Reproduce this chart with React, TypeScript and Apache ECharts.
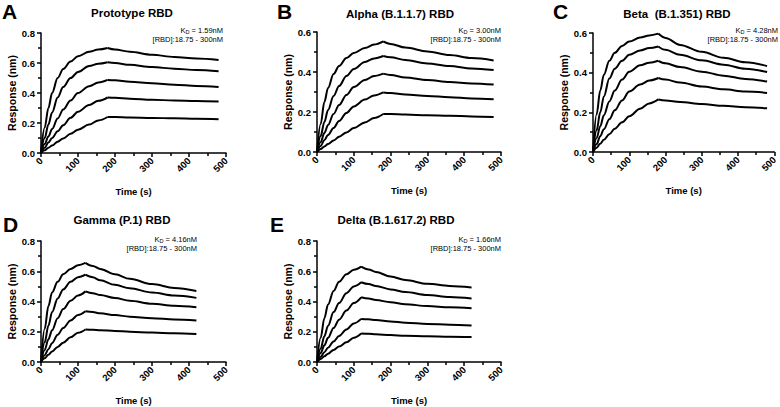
import React, { useEffect, useRef } from 'react';
import * as echarts from 'echarts';

// ---------- data ----------
const panelLetters = ['A', 'B', 'C', 'D', 'E'];
const panelTitles = ['Prototype RBD', 'Alpha (B.1.1.7) RBD', 'Beta  (B.1.351) RBD', 'Gamma (P.1) RBD', 'Delta (B.1.617.2) RBD'];
const kdValues = ['1.59nM', '3.00nM', '4.28nM', '4.16nM', '1.66nM'];
const concRange = '[RBD]:18.75 - 300nM';
const yMaxes = [0.8, 0.6, 0.6, 0.8, 0.8];
const xMax = 500;
const xInterval = 100;
const yInterval = 0.2;

// time points (s)
const assocTimeLong = [0, 10, 20, 30, 45, 60, 80, 100, 130, 155, 180];
const dissocTimeLong = [180, 200, 240, 300, 360, 420, 480];
const assocTimeShort = [0, 10, 20, 30, 45, 60, 80, 100, 120];
const dissocTimeShort = [120, 140, 160, 200, 240, 300, 360, 420];

// A: Prototype
const prototypeAssoc = [
  [0, 0.17, 0.30, 0.40, 0.50, 0.56, 0.61, 0.645, 0.675, 0.69, 0.70],
  [0, 0.10, 0.19, 0.27, 0.37, 0.44, 0.50, 0.54, 0.58, 0.595, 0.605],
  [0, 0.06, 0.11, 0.16, 0.23, 0.29, 0.35, 0.40, 0.445, 0.47, 0.487],
  [0, 0.035, 0.07, 0.10, 0.145, 0.185, 0.235, 0.275, 0.32, 0.348, 0.37],
  [0, 0.018, 0.035, 0.05, 0.075, 0.097, 0.128, 0.155, 0.19, 0.217, 0.24],
];
const prototypeDissoc = [
  [0.70, 0.69, 0.675, 0.655, 0.64, 0.63, 0.62],
  [0.605, 0.60, 0.588, 0.573, 0.562, 0.553, 0.545],
  [0.487, 0.485, 0.475, 0.465, 0.455, 0.447, 0.44],
  [0.37, 0.368, 0.362, 0.355, 0.35, 0.347, 0.343],
  [0.24, 0.24, 0.237, 0.234, 0.231, 0.228, 0.225],
];

// B: Alpha
const alphaAssoc = [
  [0, 0.14, 0.25, 0.32, 0.39, 0.43, 0.47, 0.495, 0.52, 0.537, 0.553],
  [0, 0.08, 0.15, 0.21, 0.28, 0.33, 0.38, 0.415, 0.45, 0.468, 0.48],
  [0, 0.05, 0.095, 0.135, 0.19, 0.235, 0.285, 0.325, 0.36, 0.38, 0.392],
  [0, 0.03, 0.06, 0.085, 0.12, 0.155, 0.195, 0.228, 0.262, 0.283, 0.298],
  [0, 0.015, 0.028, 0.04, 0.058, 0.076, 0.098, 0.12, 0.148, 0.17, 0.19],
];
const alphaDissoc = [
  [0.553, 0.54, 0.522, 0.503, 0.485, 0.47, 0.458],
  [0.48, 0.474, 0.46, 0.443, 0.43, 0.418, 0.41],
  [0.392, 0.385, 0.372, 0.36, 0.35, 0.343, 0.337],
  [0.298, 0.295, 0.288, 0.28, 0.274, 0.268, 0.264],
  [0.19, 0.19, 0.187, 0.184, 0.181, 0.178, 0.175],
];

// C: Beta
const betaAssoc = [
  [0, 0.19, 0.31, 0.39, 0.46, 0.50, 0.535, 0.557, 0.577, 0.588, 0.597],
  [0, 0.11, 0.20, 0.28, 0.37, 0.42, 0.46, 0.49, 0.512, 0.524, 0.532],
  [0, 0.07, 0.13, 0.185, 0.255, 0.31, 0.365, 0.405, 0.437, 0.45, 0.46],
  [0, 0.04, 0.08, 0.115, 0.165, 0.21, 0.26, 0.305, 0.34, 0.36, 0.373],
  [0, 0.022, 0.042, 0.062, 0.09, 0.117, 0.15, 0.18, 0.218, 0.245, 0.265],
];
const betaDissoc = [
  [0.597, 0.575, 0.54, 0.505, 0.475, 0.452, 0.433],
  [0.532, 0.515, 0.49, 0.462, 0.44, 0.42, 0.403],
  [0.46, 0.447, 0.428, 0.405, 0.385, 0.368, 0.355],
  [0.373, 0.365, 0.35, 0.33, 0.316, 0.305, 0.298],
  [0.265, 0.26, 0.252, 0.242, 0.233, 0.226, 0.22],
];

// D: Gamma
const gammaAssoc = [
  [0, 0.22, 0.37, 0.46, 0.53, 0.58, 0.615, 0.64, 0.655],
  [0, 0.13, 0.24, 0.33, 0.42, 0.48, 0.53, 0.56, 0.577],
  [0, 0.08, 0.15, 0.21, 0.29, 0.35, 0.405, 0.44, 0.467],
  [0, 0.045, 0.085, 0.125, 0.18, 0.225, 0.275, 0.31, 0.335],
  [0, 0.025, 0.048, 0.07, 0.10, 0.128, 0.163, 0.193, 0.215],
];
const gammaDissoc = [
  [0.655, 0.635, 0.615, 0.58, 0.55, 0.515, 0.49, 0.47],
  [0.577, 0.56, 0.54, 0.51, 0.487, 0.46, 0.44, 0.424],
  [0.467, 0.455, 0.443, 0.423, 0.405, 0.385, 0.372, 0.362],
  [0.335, 0.33, 0.322, 0.31, 0.30, 0.29, 0.281, 0.275],
  [0.215, 0.213, 0.21, 0.205, 0.20, 0.195, 0.19, 0.185],
];

// E: Delta
const deltaAssoc = [
  [0, 0.16, 0.29, 0.38, 0.47, 0.53, 0.58, 0.61, 0.63],
  [0, 0.09, 0.17, 0.24, 0.33, 0.39, 0.455, 0.50, 0.527],
  [0, 0.06, 0.11, 0.16, 0.225, 0.28, 0.34, 0.39, 0.428],
  [0, 0.035, 0.065, 0.095, 0.135, 0.172, 0.215, 0.255, 0.285],
  [0, 0.02, 0.038, 0.055, 0.08, 0.102, 0.13, 0.16, 0.188],
];
const deltaDissoc = [
  [0.63, 0.612, 0.595, 0.565, 0.542, 0.517, 0.503, 0.493],
  [0.527, 0.515, 0.503, 0.48, 0.463, 0.443, 0.43, 0.42],
  [0.428, 0.42, 0.41, 0.395, 0.382, 0.37, 0.362, 0.355],
  [0.285, 0.282, 0.277, 0.268, 0.26, 0.252, 0.246, 0.242],
  [0.188, 0.186, 0.183, 0.178, 0.174, 0.17, 0.167, 0.165],
];

const panelAssoc = [prototypeAssoc, alphaAssoc, betaAssoc, gammaAssoc, deltaAssoc];
const panelDissoc = [prototypeDissoc, alphaDissoc, betaDissoc, gammaDissoc, deltaDissoc];
const panelAssocTime = [assocTimeLong, assocTimeLong, assocTimeLong, assocTimeShort, assocTimeShort];
const panelDissocTime = [dissocTimeLong, dissocTimeLong, dissocTimeLong, dissocTimeShort, dissocTimeShort];

// ---------- layout ----------
const FONT = '"Liberation Sans", Arial, Helvetica, sans-serif';
const grids = [
  { left: 41, top: 33, width: 185, height: 120 },
  { left: 317, top: 32, width: 184, height: 120 },
  { left: 593, top: 33, width: 184, height: 119 },
  { left: 41, top: 241, width: 185, height: 121 },
  { left: 317, top: 241, width: 184, height: 121 },
];
const titlePos = [[132, 13], [400, 13.5], [677, 13.5], [122, 220], [396, 220]];
const letterPos = [[2, 11], [277, 11], [553, 11], [3, 224], [270, 224]];
// right edge, line-1 centre, line-2 centre
const kdPos = [[223, 30.8, 39.6], [501, 30.8, 39.6], [778, 30.8, 39.6], [197, 239.8, 248.6], [501, 239.8, 248.6]];
const KD_FONT = 7.5;
const SUB_FONT = 5.5;
// width of " = x.xxnM" in Arial/Liberation metrics (4.475 em)
const REST_W = 4.475 * KD_FONT;
const SUB_W = 0.722 * SUB_FONT;

function buildOption() {
  const titles: any[] = [];
  const xAxes: any[] = [];
  const yAxes: any[] = [];
  const series: any[] = [];
  const black = '#000';
  const normal = (size: number) => ({ fontFamily: FONT, fontSize: size, fontWeight: 'normal', color: black });

  panelTitles.forEach((t, i) => {
    titles.push({
      text: panelLetters[i], left: letterPos[i][0], top: letterPos[i][1], padding: 0,
      textAlign: 'left', textVerticalAlign: 'middle',
      textStyle: { fontFamily: FONT, fontWeight: 'bold', fontSize: 21, color: black },
    });
    titles.push({
      text: t, left: titlePos[i][0], top: titlePos[i][1], padding: 0,
      textAlign: 'center', textVerticalAlign: 'middle',
      textStyle: { fontFamily: FONT, fontWeight: 'bold', fontSize: 11.5, color: black },
    });
    const [R, y1, y2] = kdPos[i];
    titles.push({
      text: ' = ' + kdValues[i], left: R, top: y1, padding: 0,
      textAlign: 'right', textVerticalAlign: 'middle', textStyle: normal(KD_FONT),
    });
    titles.push({
      text: 'D', left: R - REST_W, top: y1 + 1.3, padding: 0,
      textAlign: 'right', textVerticalAlign: 'middle', textStyle: normal(SUB_FONT),
    });
    titles.push({
      text: 'K', left: R - REST_W - SUB_W, top: y1, padding: 0,
      textAlign: 'right', textVerticalAlign: 'middle', textStyle: normal(KD_FONT),
    });
    titles.push({
      text: concRange, left: R, top: y2, padding: 0,
      textAlign: 'right', textVerticalAlign: 'middle', textStyle: normal(KD_FONT),
    });

    const lineStyle = { color: black, width: 1.5 };
    xAxes.push({
      type: 'value', gridIndex: i, min: 0, max: xMax, interval: xInterval,
      name: 'Time (s)', nameLocation: 'middle', nameGap: 33,
      nameTextStyle: { fontFamily: FONT, fontWeight: 'bold', fontSize: 9.5, color: black },
      axisLine: { show: true, onZero: false, lineStyle },
      axisTick: { show: true, length: 4, lineStyle },
      minorTick: { show: true, splitNumber: 2, length: 3, lineStyle },
      splitLine: { show: false },
      axisLabel: { rotate: 45, margin: 6, fontFamily: FONT, fontWeight: 'bold', fontSize: 9.5, color: black },
    });
    yAxes.push({
      type: 'value', gridIndex: i, min: 0, max: yMaxes[i], interval: yInterval,
      name: 'Response (nm)', nameLocation: 'middle', nameGap: 23,
      nameTextStyle: { fontFamily: FONT, fontWeight: 'bold', fontSize: 10.5, color: black },
      axisLine: { show: true, onZero: false, lineStyle },
      axisTick: { show: true, length: 4, lineStyle },
      minorTick: { show: true, splitNumber: 2, length: 3, lineStyle },
      splitLine: { show: false },
      axisLabel: {
        margin: 6, fontFamily: FONT, fontWeight: 'bold', fontSize: 9.5, color: black,
        formatter: (v: number) => v.toFixed(1),
      },
    });

    const aT = panelAssocTime[i];
    const dT = panelDissocTime[i];
    panelAssoc[i].forEach((vals, c) => {
      series.push({
        type: 'line', xAxisIndex: i, yAxisIndex: i, name: `${panelLetters[i]}a${c}`,
        data: aT.map((tt, k) => [tt, vals[k]]),
        showSymbol: false, symbol: 'none', smooth: 0.35, smoothMonotone: 'x',
        lineStyle: { color: black, width: 2 }, silent: true,
      });
      const dv = panelDissoc[i][c];
      series.push({
        type: 'line', xAxisIndex: i, yAxisIndex: i, name: `${panelLetters[i]}d${c}`,
        data: dT.map((tt, k) => [tt, dv[k]]),
        showSymbol: false, symbol: 'none', smooth: 0.35, smoothMonotone: 'x',
        lineStyle: { color: black, width: 2 }, silent: true,
      });
    });
  });

  return {
    animation: false,
    backgroundColor: '#fff',
    title: titles,
    grid: grids,
    xAxis: xAxes,
    yAxis: yAxes,
    series,
  };
}

export default function App() {
  const ref = useRef<HTMLDivElement>(null);
  useEffect(() => {
    if (!ref.current) return;
    const chart = echarts.init(ref.current, undefined, { renderer: 'svg' });
    chart.setOption(buildOption() as any);
    return () => chart.dispose();
  }, []);
  return (
    <div
      ref={ref}
      style={{ position: 'fixed', left: 0, top: 0, width: 780, height: 407, background: '#fff' }}
    />
  );
}
